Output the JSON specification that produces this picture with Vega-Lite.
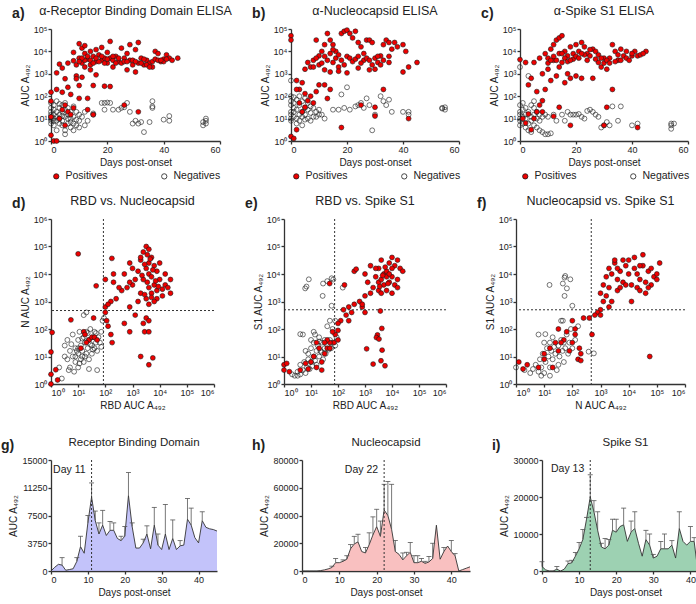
{
"$schema":"https://vega.github.io/schema/vega-lite/v6.json",
"padding":{"left":0,"top":4,"right":2,"bottom":2},
"config":{"font":"Liberation Sans","view":{"stroke":null},
"axis":{"grid":false,"domainColor":"#333","domainWidth":1.3,"tickColor":"#333","tickWidth":1.3,"tickSize":3,"labelColor":"#222","labelFontSize":9,"titleColor":"#222","titleFontSize":10,"titleFontWeight":"normal","labelPadding":1,"titlePadding":3,"labelOverlap":false},
"title":{"fontSize":12.5,"fontWeight":"normal","color":"#222","offset":8},
"legend":{"symbolStrokeColor":"#1a1a1a","symbolStrokeWidth":0.8,"symbolSize":28,"labelFontSize":10.5,"labelColor":"#222","symbolType":"circle","offset":4}},
"datasets":{
"a":[{"d":0,"v":10,"s":"N"},{"d":0,"v":15,"s":"N"},{"d":0,"v":20,"s":"N"},{"d":0,"v":30,"s":"N"},{"d":0,"v":8,"s":"N"},{"d":0,"v":12,"s":"N"},{"d":0,"v":50,"s":"N"},{"d":0,"v":6,"s":"N"},{"d":1,"v":10,"s":"N"},{"d":1,"v":5,"s":"N"},{"d":1,"v":25,"s":"N"},{"d":1,"v":40,"s":"N"},{"d":1,"v":15,"s":"N"},{"d":1,"v":8,"s":"N"},{"d":2,"v":8,"s":"N"},{"d":2,"v":20,"s":"N"},{"d":2,"v":3,"s":"N"},{"d":2,"v":12,"s":"N"},{"d":2,"v":60,"s":"N"},{"d":3,"v":6,"s":"N"},{"d":3,"v":15,"s":"N"},{"d":3,"v":30,"s":"N"},{"d":3,"v":10,"s":"N"},{"d":3,"v":45,"s":"N"},{"d":4,"v":5,"s":"N"},{"d":4,"v":20,"s":"N"},{"d":4,"v":40,"s":"N"},{"d":4,"v":8,"s":"N"},{"d":4,"v":13,"s":"N"},{"d":5,"v":3,"s":"N"},{"d":5,"v":12,"s":"N"},{"d":5,"v":25,"s":"N"},{"d":5,"v":2,"s":"N"},{"d":5,"v":50,"s":"N"},{"d":6,"v":6,"s":"N"},{"d":6,"v":15,"s":"N"},{"d":6,"v":30,"s":"N"},{"d":6,"v":10,"s":"N"},{"d":7,"v":4,"s":"N"},{"d":7,"v":10,"s":"N"},{"d":7,"v":20,"s":"N"},{"d":7,"v":7,"s":"N"},{"d":8,"v":3,"s":"N"},{"d":8,"v":12,"s":"N"},{"d":8,"v":35,"s":"N"},{"d":8,"v":6,"s":"N"},{"d":9,"v":5,"s":"N"},{"d":9,"v":20,"s":"N"},{"d":9,"v":9,"s":"N"},{"d":10,"v":8,"s":"N"},{"d":10,"v":15,"s":"N"},{"d":10,"v":4,"s":"N"},{"d":11,"v":12,"s":"N"},{"d":12,"v":5,"s":"N"},{"d":12,"v":20,"s":"N"},{"d":13,"v":8,"s":"N"},{"d":15,"v":15,"s":"N"},{"d":15,"v":17,"s":"N"},{"d":18,"v":50,"s":"N"},{"d":19,"v":50,"s":"N"},{"d":20,"v":52,"s":"N"},{"d":21,"v":50,"s":"N"},{"d":19,"v":25,"s":"N"},{"d":22,"v":25,"s":"N"},{"d":24,"v":25,"s":"N"},{"d":25,"v":30,"s":"N"},{"d":26,"v":32,"s":"N"},{"d":27,"v":50,"s":"N"},{"d":28,"v":20,"s":"N"},{"d":29,"v":6,"s":"N"},{"d":30,"v":8,"s":"N"},{"d":31,"v":6,"s":"N"},{"d":32,"v":7,"s":"N"},{"d":33,"v":2.5,"s":"N"},{"d":35,"v":7,"s":"N"},{"d":36,"v":60,"s":"N"},{"d":36,"v":35,"s":"N"},{"d":36,"v":30,"s":"N"},{"d":40,"v":9,"s":"N"},{"d":42,"v":13,"s":"N"},{"d":42,"v":8,"s":"N"},{"d":54,"v":5,"s":"N"},{"d":54,"v":7,"s":"N"},{"d":55,"v":10,"s":"N"},{"d":55,"v":6,"s":"N"},{"d":55,"v":8,"s":"N"},
{"d":0,"v":1.8,"s":"P"},{"d":0,"v":150,"s":"P"},{"d":0,"v":60,"s":"P"},{"d":0,"v":12,"s":"P"},{"d":1,"v":1,"s":"P"},{"d":2,"v":1,"s":"P"},{"d":2,"v":1100,"s":"P"},{"d":3,"v":2700,"s":"P"},{"d":4,"v":1800,"s":"P"},{"d":5,"v":600,"s":"P"},{"d":6,"v":3000,"s":"P"},{"d":6,"v":250,"s":"P"},{"d":7,"v":120,"s":"P"},{"d":8,"v":9000,"s":"P"},{"d":8,"v":3800,"s":"P"},{"d":9,"v":2500,"s":"P"},{"d":10,"v":22000,"s":"P"},{"d":10,"v":5000,"s":"P"},{"d":11,"v":14000,"s":"P"},{"d":11,"v":3000,"s":"P"},{"d":12,"v":8000,"s":"P"},{"d":12,"v":18000,"s":"P"},{"d":13,"v":4500,"s":"P"},{"d":14,"v":10000,"s":"P"},{"d":14,"v":2500,"s":"P"},{"d":15,"v":6000,"s":"P"},{"d":15,"v":300,"s":"P"},{"d":16,"v":12000,"s":"P"},{"d":16,"v":3500,"s":"P"},{"d":17,"v":7000,"s":"P"},{"d":18,"v":4000,"s":"P"},{"d":18,"v":15000,"s":"P"},{"d":19,"v":5000,"s":"P"},{"d":20,"v":3000,"s":"P"},{"d":20,"v":9000,"s":"P"},{"d":21,"v":28000,"s":"P"},{"d":21,"v":5000,"s":"P"},{"d":22,"v":4000,"s":"P"},{"d":22,"v":2000,"s":"P"},{"d":23,"v":6000,"s":"P"},{"d":24,"v":3500,"s":"P"},{"d":25,"v":14000,"s":"P"},{"d":25,"v":3000,"s":"P"},{"d":26,"v":5000,"s":"P"},{"d":27,"v":1500,"s":"P"},{"d":27,"v":8000,"s":"P"},{"d":28,"v":20000,"s":"P"},{"d":28,"v":4000,"s":"P"},{"d":29,"v":2500,"s":"P"},{"d":30,"v":12000,"s":"P"},{"d":30,"v":1200,"s":"P"},{"d":31,"v":25000,"s":"P"},{"d":31,"v":3000,"s":"P"},{"d":32,"v":5000,"s":"P"},{"d":33,"v":2500,"s":"P"},{"d":34,"v":4000,"s":"P"},{"d":35,"v":3000,"s":"P"},{"d":36,"v":3500,"s":"P"},{"d":37,"v":10000,"s":"P"},{"d":37,"v":4500,"s":"P"},{"d":38,"v":8000,"s":"P"},{"d":39,"v":3500,"s":"P"},{"d":40,"v":4500,"s":"P"},{"d":41,"v":7000,"s":"P"},{"d":42,"v":5000,"s":"P"},{"d":45,"v":5000,"s":"P"},{"d":4,"v":150,"s":"P"},{"d":5,"v":40,"s":"P"},{"d":6,"v":20,"s":"P"},{"d":7,"v":15,"s":"P"},{"d":3,"v":10,"s":"P"},{"d":4,"v":25,"s":"P"},{"d":5,"v":5,"s":"P"},{"d":8,"v":30,"s":"P"},{"d":2,"v":200,"s":"P"},{"d":9,"v":800,"s":"P"},{"d":10,"v":80,"s":"P"},{"d":13,"v":25,"s":"P"},{"d":15,"v":15,"s":"P"},{"d":10,"v":300,"s":"P"},{"d":12,"v":2000,"s":"P"},{"d":19,"v":280,"s":"P"},{"d":21,"v":270,"s":"P"},{"d":31,"v":20,"s":"P"},{"d":13,"v":80,"s":"P"},{"d":26,"v":40,"s":"P"},{"d":11,"v":700,"s":"P"},{"d":9,"v":600,"s":"P"},{"d":14,"v":1500,"s":"P"},{"d":16,"v":900,"s":"P"},{"d":12,"v":4000,"s":"P"},{"d":13,"v":6000,"s":"P"},{"d":14,"v":4000,"s":"P"},{"d":15,"v":3000,"s":"P"},{"d":17,"v":3500,"s":"P"},{"d":19,"v":3000,"s":"P"},{"d":20,"v":4500,"s":"P"},{"d":23,"v":3000,"s":"P"},{"d":24,"v":5000,"s":"P"},{"d":26,"v":3500,"s":"P"},{"d":29,"v":4000,"s":"P"},{"d":32,"v":3000,"s":"P"},{"d":34,"v":2500,"s":"P"},{"d":36,"v":2000,"s":"P"},{"d":38,"v":4000,"s":"P"},{"d":40,"v":3500,"s":"P"},{"d":41,"v":4500,"s":"P"},{"d":43,"v":4000,"s":"P"},{"d":11,"v":5000,"s":"P"},{"d":10,"v":3500,"s":"P"},{"d":16,"v":5000,"s":"P"},{"d":18,"v":6000,"s":"P"},{"d":22,"v":6000,"s":"P"},{"d":27,"v":3500,"s":"P"},{"d":30,"v":3500,"s":"P"},{"d":33,"v":4500,"s":"P"},{"d":35,"v":2000,"s":"P"},{"d":39,"v":4000,"s":"P"}],
"b":[{"d":0,"v":500,"s":"N"},{"d":0,"v":10,"s":"N"},{"d":0,"v":20,"s":"N"},{"d":0,"v":40,"s":"N"},{"d":0,"v":60,"s":"N"},{"d":0,"v":100,"s":"N"},{"d":0,"v":15,"s":"N"},{"d":0,"v":8,"s":"N"},{"d":1,"v":30,"s":"N"},{"d":1,"v":12,"s":"N"},{"d":1,"v":50,"s":"N"},{"d":1,"v":90,"s":"N"},{"d":1,"v":20,"s":"N"},{"d":2,"v":10,"s":"N"},{"d":2,"v":25,"s":"N"},{"d":2,"v":70,"s":"N"},{"d":2,"v":6,"s":"N"},{"d":3,"v":15,"s":"N"},{"d":3,"v":40,"s":"N"},{"d":3,"v":8,"s":"N"},{"d":3,"v":100,"s":"N"},{"d":4,"v":20,"s":"N"},{"d":4,"v":12,"s":"N"},{"d":4,"v":60,"s":"N"},{"d":4,"v":5,"s":"N"},{"d":5,"v":30,"s":"N"},{"d":5,"v":9,"s":"N"},{"d":5,"v":80,"s":"N"},{"d":5,"v":15,"s":"N"},{"d":6,"v":25,"s":"N"},{"d":6,"v":10,"s":"N"},{"d":6,"v":50,"s":"N"},{"d":7,"v":18,"s":"N"},{"d":7,"v":35,"s":"N"},{"d":7,"v":8,"s":"N"},{"d":8,"v":12,"s":"N"},{"d":8,"v":30,"s":"N"},{"d":9,"v":20,"s":"N"},{"d":9,"v":12,"s":"N"},{"d":10,"v":15,"s":"N"},{"d":10,"v":25,"s":"N"},{"d":11,"v":15,"s":"N"},{"d":12,"v":10,"s":"N"},{"d":15,"v":25,"s":"N"},{"d":17,"v":25,"s":"N"},{"d":18,"v":120,"s":"N"},{"d":19,"v":30,"s":"N"},{"d":20,"v":250,"s":"N"},{"d":21,"v":25,"s":"N"},{"d":23,"v":35,"s":"N"},{"d":24,"v":40,"s":"N"},{"d":25,"v":50,"s":"N"},{"d":26,"v":30,"s":"N"},{"d":27,"v":80,"s":"N"},{"d":28,"v":40,"s":"N"},{"d":29,"v":3,"s":"N"},{"d":30,"v":15,"s":"N"},{"d":32,"v":100,"s":"N"},{"d":33,"v":60,"s":"N"},{"d":34,"v":40,"s":"N"},{"d":35,"v":70,"s":"N"},{"d":36,"v":20,"s":"N"},{"d":40,"v":20,"s":"N"},{"d":42,"v":15,"s":"N"},{"d":42,"v":20,"s":"N"},{"d":54,"v":30,"s":"N"},{"d":55,"v":25,"s":"N"},{"d":54,"v":28,"s":"N"},{"d":55,"v":32,"s":"N"},
{"d":0,"v":50000,"s":"P"},{"d":0,"v":32000,"s":"P"},{"d":0,"v":1.6,"s":"P"},{"d":1,"v":1.3,"s":"P"},{"d":2,"v":3.2,"s":"P"},{"d":2,"v":500,"s":"P"},{"d":3,"v":200,"s":"P"},{"d":4,"v":400,"s":"P"},{"d":5,"v":1600,"s":"P"},{"d":6,"v":3200,"s":"P"},{"d":7,"v":2000,"s":"P"},{"d":8,"v":4000,"s":"P"},{"d":9,"v":32000,"s":"P"},{"d":10,"v":6300,"s":"P"},{"d":11,"v":10000,"s":"P"},{"d":12,"v":20000,"s":"P"},{"d":13,"v":63000,"s":"P"},{"d":14,"v":32000,"s":"P"},{"d":15,"v":20000,"s":"P"},{"d":15,"v":3200,"s":"P"},{"d":16,"v":10000,"s":"P"},{"d":17,"v":2000,"s":"P"},{"d":18,"v":63000,"s":"P"},{"d":19,"v":79000,"s":"P"},{"d":20,"v":89000,"s":"P"},{"d":21,"v":63000,"s":"P"},{"d":22,"v":40000,"s":"P"},{"d":23,"v":79000,"s":"P"},{"d":24,"v":25000,"s":"P"},{"d":25,"v":16000,"s":"P"},{"d":26,"v":4000,"s":"P"},{"d":27,"v":32000,"s":"P"},{"d":28,"v":32000,"s":"P"},{"d":29,"v":25000,"s":"P"},{"d":30,"v":1600,"s":"P"},{"d":31,"v":3200,"s":"P"},{"d":32,"v":6300,"s":"P"},{"d":33,"v":20000,"s":"P"},{"d":34,"v":32000,"s":"P"},{"d":35,"v":3200,"s":"P"},{"d":36,"v":12600,"s":"P"},{"d":38,"v":16000,"s":"P"},{"d":40,"v":20000,"s":"P"},{"d":41,"v":10000,"s":"P"},{"d":42,"v":2000,"s":"P"},{"d":45,"v":3200,"s":"P"},{"d":8,"v":2000,"s":"P"},{"d":9,"v":5000,"s":"P"},{"d":10,"v":2500,"s":"P"},{"d":11,"v":3000,"s":"P"},{"d":12,"v":6000,"s":"P"},{"d":13,"v":4000,"s":"P"},{"d":14,"v":8000,"s":"P"},{"d":15,"v":12000,"s":"P"},{"d":16,"v":5000,"s":"P"},{"d":17,"v":7000,"s":"P"},{"d":18,"v":4000,"s":"P"},{"d":19,"v":2500,"s":"P"},{"d":20,"v":6000,"s":"P"},{"d":21,"v":5000,"s":"P"},{"d":22,"v":3500,"s":"P"},{"d":23,"v":4500,"s":"P"},{"d":24,"v":6000,"s":"P"},{"d":25,"v":3000,"s":"P"},{"d":26,"v":8000,"s":"P"},{"d":27,"v":5000,"s":"P"},{"d":28,"v":4000,"s":"P"},{"d":29,"v":2500,"s":"P"},{"d":30,"v":5000,"s":"P"},{"d":31,"v":6000,"s":"P"},{"d":32,"v":2500,"s":"P"},{"d":33,"v":4000,"s":"P"},{"d":35,"v":6000,"s":"P"},{"d":12,"v":1500,"s":"P"},{"d":14,"v":1200,"s":"P"},{"d":17,"v":1300,"s":"P"},{"d":20,"v":1100,"s":"P"},{"d":24,"v":1800,"s":"P"},{"d":28,"v":1500,"s":"P"},{"d":2,"v":200,"s":"P"},{"d":5,"v":130,"s":"P"},{"d":6,"v":63,"s":"P"},{"d":7,"v":100,"s":"P"},{"d":8,"v":50,"s":"P"},{"d":9,"v":160,"s":"P"},{"d":10,"v":320,"s":"P"},{"d":12,"v":320,"s":"P"},{"d":14,"v":200,"s":"P"},{"d":13,"v":79,"s":"P"},{"d":18,"v":4,"s":"P"},{"d":25,"v":40,"s":"P"},{"d":30,"v":13,"s":"P"},{"d":30,"v":32,"s":"P"},{"d":33,"v":200,"s":"P"},{"d":42,"v":10,"s":"P"},{"d":5,"v":32,"s":"P"},{"d":4,"v":20,"s":"P"},{"d":3,"v":50,"s":"P"},{"d":40,"v":1200,"s":"P"},{"d":37,"v":25000,"s":"P"},{"d":35,"v":25000,"s":"P"}],
"c":[{"d":0,"v":2000,"s":"N"},{"d":3,"v":800,"s":"N"},{"d":0,"v":10,"s":"N"},{"d":0,"v":20,"s":"N"},{"d":0,"v":5,"s":"N"},{"d":0,"v":40,"s":"N"},{"d":0,"v":15,"s":"N"},{"d":0,"v":8,"s":"N"},{"d":1,"v":12,"s":"N"},{"d":1,"v":25,"s":"N"},{"d":1,"v":6,"s":"N"},{"d":1,"v":50,"s":"N"},{"d":2,"v":10,"s":"N"},{"d":2,"v":4,"s":"N"},{"d":2,"v":30,"s":"N"},{"d":2,"v":15,"s":"N"},{"d":3,"v":6,"s":"N"},{"d":3,"v":20,"s":"N"},{"d":3,"v":3,"s":"N"},{"d":4,"v":12,"s":"N"},{"d":4,"v":40,"s":"N"},{"d":4,"v":8,"s":"N"},{"d":4,"v":2.5,"s":"N"},{"d":5,"v":15,"s":"N"},{"d":5,"v":30,"s":"N"},{"d":5,"v":5,"s":"N"},{"d":5,"v":60,"s":"N"},{"d":6,"v":10,"s":"N"},{"d":6,"v":20,"s":"N"},{"d":6,"v":4,"s":"N"},{"d":7,"v":8,"s":"N"},{"d":7,"v":15,"s":"N"},{"d":7,"v":3,"s":"N"},{"d":8,"v":12,"s":"N"},{"d":8,"v":2.5,"s":"N"},{"d":9,"v":2,"s":"N"},{"d":9,"v":15,"s":"N"},{"d":10,"v":2,"s":"N"},{"d":10,"v":12,"s":"N"},{"d":11,"v":2.2,"s":"N"},{"d":12,"v":15,"s":"N"},{"d":13,"v":8,"s":"N"},{"d":15,"v":15,"s":"N"},{"d":16,"v":8,"s":"N"},{"d":17,"v":20,"s":"N"},{"d":18,"v":15,"s":"N"},{"d":19,"v":15,"s":"N"},{"d":20,"v":15,"s":"N"},{"d":21,"v":16,"s":"N"},{"d":22,"v":12,"s":"N"},{"d":23,"v":10,"s":"N"},{"d":24,"v":22,"s":"N"},{"d":25,"v":25,"s":"N"},{"d":26,"v":20,"s":"N"},{"d":27,"v":15,"s":"N"},{"d":28,"v":12,"s":"N"},{"d":29,"v":4,"s":"N"},{"d":30,"v":5,"s":"N"},{"d":31,"v":7,"s":"N"},{"d":32,"v":5,"s":"N"},{"d":33,"v":35,"s":"N"},{"d":35,"v":8,"s":"N"},{"d":36,"v":35,"s":"N"},{"d":40,"v":5,"s":"N"},{"d":42,"v":6,"s":"N"},{"d":54,"v":6,"s":"N"},{"d":54,"v":5,"s":"N"},{"d":55,"v":6,"s":"N"},{"d":54,"v":3.5,"s":"N"},
{"d":0,"v":4300,"s":"P"},{"d":2,"v":3200,"s":"P"},{"d":3,"v":320,"s":"P"},{"d":4,"v":630,"s":"P"},{"d":5,"v":3200,"s":"P"},{"d":6,"v":160,"s":"P"},{"d":7,"v":5000,"s":"P"},{"d":8,"v":1000,"s":"P"},{"d":9,"v":7900,"s":"P"},{"d":10,"v":5000,"s":"P"},{"d":11,"v":12600,"s":"P"},{"d":12,"v":20000,"s":"P"},{"d":13,"v":32000,"s":"P"},{"d":14,"v":40000,"s":"P"},{"d":15,"v":50000,"s":"P"},{"d":15,"v":3200,"s":"P"},{"d":16,"v":10000,"s":"P"},{"d":17,"v":6300,"s":"P"},{"d":18,"v":16000,"s":"P"},{"d":19,"v":7900,"s":"P"},{"d":20,"v":20000,"s":"P"},{"d":21,"v":10000,"s":"P"},{"d":22,"v":25000,"s":"P"},{"d":23,"v":16000,"s":"P"},{"d":24,"v":7900,"s":"P"},{"d":25,"v":6300,"s":"P"},{"d":26,"v":12600,"s":"P"},{"d":27,"v":10000,"s":"P"},{"d":28,"v":3200,"s":"P"},{"d":29,"v":2000,"s":"P"},{"d":30,"v":5000,"s":"P"},{"d":31,"v":1600,"s":"P"},{"d":32,"v":5000,"s":"P"},{"d":33,"v":20000,"s":"P"},{"d":33,"v":200,"s":"P"},{"d":34,"v":10000,"s":"P"},{"d":35,"v":4000,"s":"P"},{"d":36,"v":12600,"s":"P"},{"d":37,"v":6300,"s":"P"},{"d":38,"v":10000,"s":"P"},{"d":40,"v":6300,"s":"P"},{"d":41,"v":10000,"s":"P"},{"d":42,"v":6300,"s":"P"},{"d":45,"v":10000,"s":"P"},{"d":10,"v":1600,"s":"P"},{"d":12,"v":4000,"s":"P"},{"d":13,"v":800,"s":"P"},{"d":16,"v":400,"s":"P"},{"d":18,"v":630,"s":"P"},{"d":20,"v":800,"s":"P"},{"d":22,"v":630,"s":"P"},{"d":26,"v":630,"s":"P"},{"d":14,"v":2000,"s":"P"},{"d":17,"v":1000,"s":"P"},{"d":11,"v":500,"s":"P"},{"d":9,"v":200,"s":"P"},{"d":8,"v":63,"s":"P"},{"d":7,"v":40,"s":"P"},{"d":6,"v":20,"s":"P"},{"d":5,"v":10,"s":"P"},{"d":4,"v":3.2,"s":"P"},{"d":3,"v":16,"s":"P"},{"d":2,"v":6.3,"s":"P"},{"d":1,"v":10,"s":"P"},{"d":14,"v":32,"s":"P"},{"d":18,"v":5,"s":"P"},{"d":30,"v":5,"s":"P"},{"d":31,"v":32,"s":"P"},{"d":42,"v":4,"s":"P"},{"d":12,"v":12.6,"s":"P"},{"d":8,"v":20,"s":"P"},{"d":12,"v":6000,"s":"P"},{"d":13,"v":4000,"s":"P"},{"d":14,"v":8000,"s":"P"},{"d":16,"v":5000,"s":"P"},{"d":17,"v":3500,"s":"P"},{"d":19,"v":4500,"s":"P"},{"d":20,"v":6000,"s":"P"},{"d":21,"v":5000,"s":"P"},{"d":23,"v":7000,"s":"P"},{"d":24,"v":4000,"s":"P"},{"d":25,"v":12000,"s":"P"},{"d":27,"v":4500,"s":"P"},{"d":28,"v":7000,"s":"P"},{"d":29,"v":5000,"s":"P"},{"d":30,"v":3000,"s":"P"},{"d":31,"v":4000,"s":"P"},{"d":32,"v":3000,"s":"P"},{"d":34,"v":3500,"s":"P"},{"d":35,"v":7000,"s":"P"},{"d":36,"v":4000,"s":"P"},{"d":38,"v":5000,"s":"P"},{"d":39,"v":4000,"s":"P"},{"d":40,"v":8000,"s":"P"},{"d":43,"v":7000,"s":"P"},{"d":44,"v":8000,"s":"P"},{"d":22,"v":8000,"s":"P"},{"d":18,"v":4000,"s":"P"},{"d":10,"v":3000,"s":"P"},{"d":11,"v":4000,"s":"P"},{"d":15,"v":8000,"s":"P"}],
"d":[{"x":2.5,"y":1.58,"s":"N"},{"x":3.2,"y":10,"s":"N"},{"x":4,"y":40,"s":"N"},{"x":4,"y":7.9,"s":"N"},{"x":5,"y":16,"s":"N"},{"x":5,"y":4,"s":"N"},{"x":6.3,"y":10,"s":"N"},{"x":6.3,"y":63,"s":"N"},{"x":7.1,"y":2.8,"s":"N"},{"x":7.9,"y":20,"s":"N"},{"x":7.9,"y":6.3,"s":"N"},{"x":10,"y":12.6,"s":"N"},{"x":10,"y":40,"s":"N"},{"x":10,"y":4,"s":"N"},{"x":11.2,"y":79,"s":"N"},{"x":12.6,"y":25,"s":"N"},{"x":12.6,"y":7.9,"s":"N"},{"x":14.1,"y":16,"s":"N"},{"x":16,"y":50,"s":"N"},{"x":16,"y":6.3,"s":"N"},{"x":17.8,"y":32,"s":"N"},{"x":20,"y":12.6,"s":"N"},{"x":20,"y":79,"s":"N"},{"x":22.4,"y":20,"s":"N"},{"x":25,"y":40,"s":"N"},{"x":25,"y":7.9,"s":"N"},{"x":28,"y":100,"s":"N"},{"x":32,"y":25,"s":"N"},{"x":32,"y":12.6,"s":"N"},{"x":35,"y":50,"s":"N"},{"x":40,"y":20,"s":"N"},{"x":40,"y":79,"s":"N"},{"x":45,"y":32,"s":"N"},{"x":50,"y":16,"s":"N"},{"x":56,"y":50,"s":"N"},{"x":63,"y":32,"s":"N"},{"x":71,"y":79,"s":"N"},{"x":79,"y":200,"s":"N"},{"x":20,"y":400,"s":"N"},{"x":16,"y":320,"s":"N"},{"x":89,"y":250,"s":"N"},{"x":10,"y":20,"s":"N"},{"x":7.9,"y":10,"s":"N"},{"x":14.1,"y":45,"s":"N"},{"x":22.4,"y":71,"s":"N"},{"x":3.2,"y":25,"s":"N"},{"x":50,"y":3.2,"s":"N"},{"x":2,"y":4,"s":"N"},{"x":11.2,"y":5.6,"s":"N"},{"x":17.8,"y":10,"s":"N"},{"x":5.6,"y":28,"s":"N"},{"x":35,"y":17.8,"s":"N"},{"x":28,"y":28,"s":"N"},{"x":14.1,"y":10,"s":"N"},{"x":8.9,"y":16,"s":"N"},{"x":45,"y":71,"s":"N"},{"x":71,"y":22.4,"s":"N"},{"x":4.5,"y":3.2,"s":"N"},{"x":25,"y":3.5,"s":"N"},
{"x":3200,"y":100000,"s":"P"},{"x":4000,"y":79000,"s":"P"},{"x":2500,"y":63000,"s":"P"},{"x":3500,"y":50000,"s":"P"},{"x":5000,"y":40000,"s":"P"},{"x":2000,"y":32000,"s":"P"},{"x":4000,"y":25000,"s":"P"},{"x":6300,"y":20000,"s":"P"},{"x":3200,"y":16000,"s":"P"},{"x":7900,"y":12600,"s":"P"},{"x":1600,"y":12600,"s":"P"},{"x":4000,"y":10000,"s":"P"},{"x":5000,"y":7900,"s":"P"},{"x":10000,"y":6300,"s":"P"},{"x":2500,"y":6300,"s":"P"},{"x":3500,"y":5000,"s":"P"},{"x":6300,"y":4000,"s":"P"},{"x":16000,"y":4000,"s":"P"},{"x":1000,"y":4000,"s":"P"},{"x":4000,"y":3200,"s":"P"},{"x":7900,"y":2500,"s":"P"},{"x":20000,"y":3200,"s":"P"},{"x":2000,"y":2000,"s":"P"},{"x":5000,"y":2000,"s":"P"},{"x":12600,"y":1600,"s":"P"},{"x":3200,"y":1260,"s":"P"},{"x":7900,"y":1260,"s":"P"},{"x":25000,"y":2000,"s":"P"},{"x":1600,"y":1000,"s":"P"},{"x":6300,"y":1000,"s":"P"},{"x":4000,"y":790,"s":"P"},{"x":630,"y":3200,"s":"P"},{"x":400,"y":2500,"s":"P"},{"x":320,"y":3200,"s":"P"},{"x":250,"y":1260,"s":"P"},{"x":160,"y":1000,"s":"P"},{"x":100,"y":630,"s":"P"},{"x":126,"y":790,"s":"P"},{"x":200,"y":10000,"s":"P"},{"x":100,"y":6300,"s":"P"},{"x":200,"y":5000,"s":"P"},{"x":790,"y":5000,"s":"P"},{"x":500,"y":10000,"s":"P"},{"x":1000,"y":16000,"s":"P"},{"x":790,"y":25000,"s":"P"},{"x":1260,"y":6300,"s":"P"},{"x":2000,"y":40000,"s":"P"},{"x":10000,"y":25000,"s":"P"},{"x":16000,"y":10000,"s":"P"},{"x":25000,"y":6300,"s":"P"},{"x":4500,"y":35000,"s":"P"},{"x":2800,"y":22400,"s":"P"},{"x":5600,"y":14100,"s":"P"},{"x":2240,"y":8900,"s":"P"},{"x":7100,"y":5600,"s":"P"},{"x":8900,"y":3500,"s":"P"},{"x":12600,"y":2800,"s":"P"},{"x":2800,"y":1780,"s":"P"},{"x":5000,"y":1410,"s":"P"},{"x":790,"y":630,"s":"P"},{"x":1260,"y":320,"s":"P"},{"x":500,"y":160,"s":"P"},{"x":3200,"y":250,"s":"P"},{"x":4000,"y":200,"s":"P"},{"x":2500,"y":160,"s":"P"},{"x":2800,"y":79,"s":"P"},{"x":4000,"y":79,"s":"P"},{"x":790,"y":79,"s":"P"},{"x":2000,"y":10,"s":"P"},{"x":4000,"y":5,"s":"P"},{"x":5600,"y":8.9,"s":"P"},{"x":100,"y":400,"s":"P"},{"x":112,"y":200,"s":"P"},{"x":126,"y":126,"s":"P"},{"x":160,"y":63,"s":"P"},{"x":178,"y":32,"s":"P"},{"x":37,"y":250,"s":"P"},{"x":46,"y":3700,"s":"P"},{"x":10,"y":54000,"s":"P"},{"x":174,"y":37000,"s":"P"},{"x":1,"y":1,"s":"P"},{"x":1,"y":2.24,"s":"P"},{"x":1,"y":14.5,"s":"P"},{"x":1.1,"y":75,"s":"P"},{"x":1.5,"y":3.3,"s":"P"},{"x":1.75,"y":1.4,"s":"P"},{"x":5.4,"y":215,"s":"P"},{"x":16,"y":79,"s":"P"},{"x":25,"y":40,"s":"P"},{"x":32,"y":50,"s":"P"},{"x":20,"y":32,"s":"P"},{"x":40,"y":50,"s":"P"},{"x":12.6,"y":20,"s":"P"},{"x":50,"y":40,"s":"P"},{"x":17.8,"y":63,"s":"P"}],
"e":[{"x":2,"y":2.24,"s":"N"},{"x":2.5,"y":2,"s":"N"},{"x":3.2,"y":2.8,"s":"N"},{"x":4,"y":2.24,"s":"N"},{"x":4,"y":5,"s":"N"},{"x":5,"y":3.2,"s":"N"},{"x":5.6,"y":6.3,"s":"N"},{"x":6.3,"y":2.5,"s":"N"},{"x":7.1,"y":4,"s":"N"},{"x":7.9,"y":7.9,"s":"N"},{"x":7.9,"y":12.6,"s":"N"},{"x":8.9,"y":3.5,"s":"N"},{"x":10,"y":6.3,"s":"N"},{"x":10,"y":20,"s":"N"},{"x":11.2,"y":4.5,"s":"N"},{"x":12.6,"y":10,"s":"N"},{"x":12.6,"y":32,"s":"N"},{"x":14.1,"y":7.1,"s":"N"},{"x":16,"y":16,"s":"N"},{"x":16,"y":5,"s":"N"},{"x":17.8,"y":25,"s":"N"},{"x":20,"y":10,"s":"N"},{"x":20,"y":50,"s":"N"},{"x":22.4,"y":16,"s":"N"},{"x":25,"y":32,"s":"N"},{"x":28,"y":7.9,"s":"N"},{"x":32,"y":20,"s":"N"},{"x":32,"y":40,"s":"N"},{"x":35,"y":12.6,"s":"N"},{"x":40,"y":25,"s":"N"},{"x":45,"y":17.8,"s":"N"},{"x":50,"y":40,"s":"N"},{"x":56,"y":20,"s":"N"},{"x":63,"y":32,"s":"N"},{"x":79,"y":25,"s":"N"},{"x":89,"y":50,"s":"N"},{"x":79,"y":200,"s":"N"},{"x":63,"y":100,"s":"N"},{"x":5,"y":63,"s":"N"},{"x":12.6,"y":79,"s":"N"},{"x":10,"y":40,"s":"N"},{"x":6.1,"y":3000,"s":"N"},{"x":8.3,"y":6400,"s":"N"},{"x":6.8,"y":3500,"s":"N"},{"x":27,"y":1600,"s":"N"},{"x":28,"y":4500,"s":"N"},{"x":40,"y":5500,"s":"N"},{"x":58,"y":7000,"s":"N"},{"x":67,"y":6300,"s":"N"},{"x":150,"y":3200,"s":"N"},{"x":58,"y":700,"s":"N"},{"x":50,"y":200,"s":"N"},{"x":4,"y":65,"s":"N"},{"x":40,"y":126,"s":"N"},{"x":20,"y":35,"s":"N"},{"x":3.2,"y":2,"s":"N"},{"x":14.1,"y":63,"s":"N"},{"x":25,"y":14.1,"s":"N"},{"x":6.3,"y":16,"s":"N"},
{"x":3200,"y":16000,"s":"P"},{"x":4000,"y":32000,"s":"P"},{"x":5000,"y":10000,"s":"P"},{"x":6300,"y":12600,"s":"P"},{"x":7900,"y":25000,"s":"P"},{"x":10000,"y":40000,"s":"P"},{"x":12600,"y":20000,"s":"P"},{"x":16000,"y":32000,"s":"P"},{"x":20000,"y":16000,"s":"P"},{"x":25000,"y":12600,"s":"P"},{"x":2500,"y":7900,"s":"P"},{"x":3200,"y":5000,"s":"P"},{"x":4000,"y":6300,"s":"P"},{"x":5000,"y":4000,"s":"P"},{"x":6300,"y":7900,"s":"P"},{"x":7900,"y":5000,"s":"P"},{"x":10000,"y":7900,"s":"P"},{"x":12600,"y":4000,"s":"P"},{"x":16000,"y":6300,"s":"P"},{"x":2000,"y":3200,"s":"P"},{"x":3200,"y":2500,"s":"P"},{"x":4000,"y":2000,"s":"P"},{"x":6300,"y":2500,"s":"P"},{"x":10000,"y":2000,"s":"P"},{"x":16000,"y":3200,"s":"P"},{"x":1260,"y":5000,"s":"P"},{"x":1600,"y":2000,"s":"P"},{"x":1000,"y":1600,"s":"P"},{"x":2500,"y":16000,"s":"P"},{"x":400,"y":12600,"s":"P"},{"x":1000,"y":10000,"s":"P"},{"x":1600,"y":20000,"s":"P"},{"x":7900,"y":10000,"s":"P"},{"x":10000,"y":16000,"s":"P"},{"x":4500,"y":8900,"s":"P"},{"x":5600,"y":17800,"s":"P"},{"x":3500,"y":3500,"s":"P"},{"x":7100,"y":4500,"s":"P"},{"x":630,"y":1000,"s":"P"},{"x":790,"y":630,"s":"P"},{"x":400,"y":790,"s":"P"},{"x":320,"y":400,"s":"P"},{"x":250,"y":630,"s":"P"},{"x":200,"y":320,"s":"P"},{"x":160,"y":500,"s":"P"},{"x":126,"y":200,"s":"P"},{"x":100,"y":160,"s":"P"},{"x":79,"y":63,"s":"P"},{"x":63,"y":79,"s":"P"},{"x":71,"y":32,"s":"P"},{"x":50,"y":32,"s":"P"},{"x":40,"y":20,"s":"P"},{"x":250,"y":200,"s":"P"},{"x":100,"y":89,"s":"P"},{"x":790,"y":790,"s":"P"},{"x":1000,"y":400,"s":"P"},{"x":2000,"y":5.3,"s":"P"},{"x":3900,"y":7,"s":"P"},{"x":5500,"y":4.6,"s":"P"},{"x":4300,"y":17,"s":"P"},{"x":2900,"y":61,"s":"P"},{"x":2650,"y":49,"s":"P"},{"x":3300,"y":43,"s":"P"},{"x":4200,"y":105,"s":"P"},{"x":3700,"y":450,"s":"P"},{"x":1150,"y":19,"s":"P"},{"x":470,"y":15000,"s":"P"},{"x":49,"y":4500,"s":"P"},{"x":174,"y":4000,"s":"P"},{"x":1,"y":3.2,"s":"P"},{"x":1,"y":5,"s":"P"},{"x":1.26,"y":5.6,"s":"P"},{"x":1.58,"y":2.8,"s":"P"},{"x":4,"y":3.2,"s":"P"},{"x":6.3,"y":5.6,"s":"P"},{"x":10,"y":6.3,"s":"P"},{"x":16,"y":4,"s":"P"},{"x":25,"y":3.2,"s":"P"},{"x":20,"y":20,"s":"P"},{"x":32,"y":12.6,"s":"P"},{"x":16,"y":32,"s":"P"},{"x":40,"y":40,"s":"P"},{"x":25,"y":6.3,"s":"P"},{"x":12.6,"y":10,"s":"P"},{"x":7.9,"y":3.5,"s":"P"},{"x":32,"y":32,"s":"P"},{"x":50,"y":20,"s":"P"},{"x":100,"y":40,"s":"P"}],
"f":[{"x":1,"y":4,"s":"N"},{"x":2,"y":3.2,"s":"N"},{"x":3.2,"y":2.5,"s":"N"},{"x":4,"y":3.5,"s":"N"},{"x":5,"y":5,"s":"N"},{"x":6.3,"y":2.8,"s":"N"},{"x":7.1,"y":7.9,"s":"N"},{"x":7.9,"y":4,"s":"N"},{"x":8.9,"y":12.6,"s":"N"},{"x":10,"y":2.5,"s":"N"},{"x":11.2,"y":6.3,"s":"N"},{"x":12.6,"y":20,"s":"N"},{"x":14.1,"y":10,"s":"N"},{"x":16,"y":4,"s":"N"},{"x":16,"y":32,"s":"N"},{"x":17.8,"y":16,"s":"N"},{"x":20,"y":7.9,"s":"N"},{"x":20,"y":50,"s":"N"},{"x":22.4,"y":22.4,"s":"N"},{"x":25,"y":12.6,"s":"N"},{"x":28,"y":3.2,"s":"N"},{"x":32,"y":25,"s":"N"},{"x":35,"y":10,"s":"N"},{"x":40,"y":40,"s":"N"},{"x":45,"y":16,"s":"N"},{"x":50,"y":6.3,"s":"N"},{"x":50,"y":32,"s":"N"},{"x":56,"y":20,"s":"N"},{"x":63,"y":63,"s":"N"},{"x":71,"y":12.6,"s":"N"},{"x":79,"y":32,"s":"N"},{"x":100,"y":20,"s":"N"},{"x":126,"y":40,"s":"N"},{"x":40,"y":200,"s":"N"},{"x":6.3,"y":63,"s":"N"},{"x":15.5,"y":4000,"s":"N"},{"x":46,"y":4500,"s":"N"},{"x":53,"y":7400,"s":"N"},{"x":56,"y":8500,"s":"N"},{"x":64,"y":3000,"s":"N"},{"x":53,"y":1600,"s":"N"},{"x":85,"y":6400,"s":"N"},{"x":100,"y":700,"s":"N"},{"x":46,"y":200,"s":"N"},{"x":11,"y":65,"s":"N"},{"x":380,"y":15,"s":"N"},{"x":580,"y":13,"s":"N"},{"x":160,"y":126,"s":"N"},{"x":89,"y":100,"s":"N"},{"x":10,"y":32,"s":"N"},{"x":16,"y":2,"s":"N"},{"x":7.9,"y":2,"s":"N"},{"x":32,"y":5,"s":"N"},
{"x":1000,"y":2000,"s":"P"},{"x":1260,"y":4000,"s":"P"},{"x":1600,"y":7900,"s":"P"},{"x":2000,"y":16000,"s":"P"},{"x":2500,"y":10000,"s":"P"},{"x":3200,"y":25000,"s":"P"},{"x":4000,"y":6300,"s":"P"},{"x":5000,"y":12600,"s":"P"},{"x":6300,"y":5000,"s":"P"},{"x":7900,"y":20000,"s":"P"},{"x":10000,"y":10000,"s":"P"},{"x":12600,"y":4000,"s":"P"},{"x":16000,"y":16000,"s":"P"},{"x":20000,"y":10000,"s":"P"},{"x":25000,"y":6300,"s":"P"},{"x":32000,"y":20000,"s":"P"},{"x":40000,"y":5000,"s":"P"},{"x":50000,"y":12600,"s":"P"},{"x":63000,"y":16000,"s":"P"},{"x":79000,"y":7900,"s":"P"},{"x":100000,"y":10000,"s":"P"},{"x":126000,"y":25000,"s":"P"},{"x":32000,"y":50000,"s":"P"},{"x":16000,"y":40000,"s":"P"},{"x":6300,"y":32000,"s":"P"},{"x":3200,"y":32000,"s":"P"},{"x":2000,"y":3200,"s":"P"},{"x":1600,"y":1600,"s":"P"},{"x":1260,"y":1000,"s":"P"},{"x":1000,"y":500,"s":"P"},{"x":790,"y":400,"s":"P"},{"x":630,"y":320,"s":"P"},{"x":2000,"y":630,"s":"P"},{"x":2500,"y":1000,"s":"P"},{"x":4000,"y":2500,"s":"P"},{"x":7900,"y":4000,"s":"P"},{"x":20000,"y":3200,"s":"P"},{"x":25000,"y":2500,"s":"P"},{"x":40000,"y":2000,"s":"P"},{"x":63000,"y":4000,"s":"P"},{"x":100000,"y":6300,"s":"P"},{"x":12600,"y":1000,"s":"P"},{"x":5000,"y":3200,"s":"P"},{"x":10000,"y":32000,"s":"P"},{"x":4000,"y":16000,"s":"P"},{"x":25000,"y":20000,"s":"P"},{"x":50000,"y":3200,"s":"P"},{"x":400,"y":250,"s":"P"},{"x":250,"y":250,"s":"P"},{"x":500,"y":63,"s":"P"},{"x":1000,"y":320,"s":"P"},{"x":56000,"y":10,"s":"P"},{"x":200,"y":12.6,"s":"P"},{"x":178,"y":20,"s":"P"},{"x":126,"y":100,"s":"P"},{"x":100,"y":200,"s":"P"},{"x":63,"y":79,"s":"P"},{"x":50,"y":40,"s":"P"},{"x":40,"y":32,"s":"P"},{"x":25,"y":32,"s":"P"},{"x":16,"y":20,"s":"P"},{"x":79,"y":16,"s":"P"},{"x":126,"y":63,"s":"P"},{"x":32,"y":16,"s":"P"},{"x":20,"y":4,"s":"P"},{"x":6.3,"y":4,"s":"P"},{"x":2.5,"y":5,"s":"P"},{"x":1.78,"y":3.5,"s":"P"},{"x":1.26,"y":6.3,"s":"P"},{"x":10,"y":7.9,"s":"P"},{"x":100,"y":32,"s":"P"},{"x":160,"y":7.9,"s":"P"},{"x":32,"y":100,"s":"P"},{"x":10,"y":12.6,"s":"P"},{"x":200,"y":7.1,"s":"P"}],
"g":[{"day":0,"m":0},{"day":1,"m":500},{"day":2,"m":900},{"day":3,"m":800,"hi":1800},{"day":4,"m":100},{"day":5,"m":200},{"day":6,"m":300},{"day":7,"m":1300,"hi":1800},{"day":8,"m":3300,"hi":4700},{"day":9,"m":2400},{"day":10,"m":6500,"hi":7500},{"day":11,"m":10000,"hi":11900},{"day":12,"m":6800,"hi":8100},{"day":13,"m":5000,"hi":6500},{"day":14,"m":6200,"hi":8200},{"day":15,"m":4800},{"day":16,"m":5500,"hi":6700},{"day":17,"m":5500,"hi":6500},{"day":18,"m":4400},{"day":19,"m":4100,"hi":4700},{"day":20,"m":4700,"hi":6000},{"day":21,"m":10200,"hi":13300},{"day":22,"m":6000,"hi":6500},{"day":23,"m":3100},{"day":24,"m":3100},{"day":25,"m":3800,"hi":4300},{"day":26,"m":5000,"hi":6100},{"day":27,"m":3000},{"day":28,"m":6200,"hi":8600},{"day":29,"m":3500,"hi":5000},{"day":30,"m":2900},{"day":31,"m":5000,"hi":9000},{"day":32,"m":2900},{"day":33,"m":4400,"hi":6900},{"day":34,"m":2900},{"day":35,"m":3400,"hi":4100},{"day":36,"m":3500},{"day":37,"m":7000,"hi":9800},{"day":38,"m":6200,"hi":8500},{"day":39,"m":4500},{"day":40,"m":3800},{"day":41,"m":6800,"hi":8000},{"day":42,"m":5900},{"day":43,"m":5700},{"day":44,"m":5600},{"day":45,"m":5400}],
"h":[{"day":0,"m":0},{"day":1,"m":0},{"day":2,"m":0},{"day":3,"m":0},{"day":4,"m":0},{"day":5,"m":300},{"day":6,"m":800},{"day":7,"m":1500},{"day":8,"m":2500,"hi":3500},{"day":9,"m":6000,"hi":9000},{"day":10,"m":6000},{"day":11,"m":7000,"hi":8000},{"day":12,"m":8500,"hi":11000},{"day":13,"m":16000,"hi":19000},{"day":14,"m":19500,"hi":25000},{"day":15,"m":21000,"hi":26500},{"day":16,"m":14000},{"day":17,"m":13000,"hi":17000},{"day":18,"m":19000,"hi":27500},{"day":19,"m":26000,"hi":39000},{"day":20,"m":32000,"hi":44500},{"day":21,"m":25000,"hi":36000},{"day":22,"m":44000,"hi":62500},{"day":23,"m":40000,"hi":64500},{"day":24,"m":30000,"hi":62500},{"day":25,"m":14000,"hi":22000},{"day":26,"m":12000},{"day":27,"m":8000,"hi":13000},{"day":28,"m":11000,"hi":13500},{"day":29,"m":13500,"hi":20500},{"day":30,"m":6000,"hi":11000},{"day":31,"m":6000,"hi":11000},{"day":32,"m":7000,"hi":9000},{"day":33,"m":5500,"hi":7000},{"day":34,"m":6500,"hi":10500},{"day":35,"m":9000,"hi":20000},{"day":36,"m":33000},{"day":37,"m":8500},{"day":38,"m":14000,"hi":17000},{"day":39,"m":18000},{"day":40,"m":14000,"hi":22000},{"day":41,"m":11000,"hi":12500},{"day":42,"m":0},{"day":43,"m":1000},{"day":44,"m":2000},{"day":45,"m":3000}],
"i":[{"day":0,"m":1200,"hi":2500},{"day":1,"m":300},{"day":2,"m":0},{"day":3,"m":0},{"day":4,"m":500,"hi":1200},{"day":5,"m":0},{"day":6,"m":500},{"day":7,"m":2000,"hi":2700},{"day":8,"m":2200,"hi":2900},{"day":9,"m":4000,"hi":5000},{"day":10,"m":6000,"hi":7700},{"day":11,"m":8500,"hi":11200},{"day":12,"m":14000,"hi":14500},{"day":13,"m":20000,"hi":26000},{"day":14,"m":16000,"hi":19000},{"day":15,"m":11000,"hi":16000},{"day":16,"m":6500,"hi":7500},{"day":17,"m":6000,"hi":8800},{"day":18,"m":7000,"hi":8500},{"day":19,"m":11000,"hi":14000},{"day":20,"m":10500,"hi":14000},{"day":21,"m":12000},{"day":22,"m":12500,"hi":17000},{"day":23,"m":8000},{"day":24,"m":10500,"hi":13500},{"day":25,"m":11500,"hi":16000},{"day":26,"m":7500},{"day":27,"m":4000},{"day":28,"m":8500,"hi":11000},{"day":29,"m":7000,"hi":10000},{"day":30,"m":3500,"hi":4500},{"day":31,"m":4000},{"day":32,"m":6000,"hi":8000},{"day":33,"m":6000,"hi":10000},{"day":34,"m":6000},{"day":35,"m":7000,"hi":8200},{"day":36,"m":3500},{"day":37,"m":11500,"hi":16000},{"day":38,"m":8000},{"day":39,"m":7000},{"day":40,"m":8000,"hi":12000},{"day":41,"m":8000,"hi":9000},{"day":42,"m":0},{"day":43,"m":4000},{"day":44,"m":7500},{"day":45,"m":11000}]
},
"spacing":12,
"resolve":{"scale":{"fill":"independent"}},
"vconcat":[
{"hconcat":[
{"title":{"text":"a)","anchor":"start","frame":"bounds","fontWeight":"bold","fontSize":14,"offset":0,"dy":16,"dx":-8},"vconcat":[
{"width":169,"height":112,"title":{"text":"α-Receptor Binding Domain ELISA"},"data":{"name":"a"},
"mark":{"type":"point","filled":true,"stroke":"#1a1a1a","strokeWidth":0.6,"size":24,"opacity":1},
"encoding":{"x":{"field":"d","type":"quantitative","scale":{"domain":[0,60],"nice":false},"axis":{"values":[0,20,40,60],"tickCount":10,"title":"Days post-onset"}},
"y":{"field":"v","type":"quantitative","scale":{"type":"log","domain":[1,100000]},"axis":{"values":[1,10,100,1000,10000,100000],"labelExpr":"'10' + ['⁰','¹','²','³','⁴','⁵','⁶'][round(log(datum.value)/LN10)]","title":"AUC A₄₉₂"}},
"fill":{"field":"s","type":"nominal","scale":{"domain":["P","N"],"range":["#ee0000","transparent"]},"legend":{"title":null,"orient":"bottom","direction":"horizontal","labelExpr":"datum.label == 'P' ? 'Positives' : 'Negatives'","columnPadding":51}}}}]},
{"title":{"text":"b)","anchor":"start","frame":"bounds","fontWeight":"bold","fontSize":14,"offset":0,"dy":16,"dx":-8},"vconcat":[
{"width":168,"height":112,"title":{"text":"α-Nucleocapsid ELISA"},"data":{"name":"b"},
"mark":{"type":"point","filled":true,"stroke":"#1a1a1a","strokeWidth":0.6,"size":24,"opacity":1},
"encoding":{"x":{"field":"d","type":"quantitative","scale":{"domain":[0,60],"nice":false},"axis":{"values":[0,20,40,60],"tickCount":10,"title":"Days post-onset"}},
"y":{"field":"v","type":"quantitative","scale":{"type":"log","domain":[1,100000]},"axis":{"values":[1,10,100,1000,10000,100000],"labelExpr":"'10' + ['⁰','¹','²','³','⁴','⁵','⁶'][round(log(datum.value)/LN10)]","title":"AUC A₄₉₂"}},
"fill":{"field":"s","type":"nominal","scale":{"domain":["P","N"],"range":["#ee0000","transparent"]},"legend":{"title":null,"orient":"bottom","direction":"horizontal","labelExpr":"datum.label == 'P' ? 'Positives' : 'Negatives'","columnPadding":51}}}}]},
{"title":{"text":"c)","anchor":"start","frame":"bounds","fontWeight":"bold","fontSize":14,"offset":0,"dy":16,"dx":-8},"vconcat":[
{"width":168,"height":112,"title":{"text":"α-Spike S1 ELISA"},"data":{"name":"c"},
"mark":{"type":"point","filled":true,"stroke":"#1a1a1a","strokeWidth":0.6,"size":24,"opacity":1},
"encoding":{"x":{"field":"d","type":"quantitative","scale":{"domain":[0,60],"nice":false},"axis":{"values":[0,20,40,60],"tickCount":10,"title":"Days post-onset"}},
"y":{"field":"v","type":"quantitative","scale":{"type":"log","domain":[1,100000]},"axis":{"values":[1,10,100,1000,10000,100000],"labelExpr":"'10' + ['⁰','¹','²','³','⁴','⁵','⁶'][round(log(datum.value)/LN10)]","title":"AUC A₄₉₂"}},
"fill":{"field":"s","type":"nominal","scale":{"domain":["P","N"],"range":["#ee0000","transparent"]},"legend":{"title":null,"orient":"bottom","direction":"horizontal","labelExpr":"datum.label == 'P' ? 'Positives' : 'Negatives'","columnPadding":51}}}}]}
],"spacing":20,"resolve":{"scale":{"fill":"independent"}}},
{"vconcat":[
{"hconcat":[
{"title":{"text":"d)","anchor":"start","frame":"bounds","fontWeight":"bold","fontSize":14,"offset":0,"dy":16,"dx":-8},"vconcat":[
{"width":163,"height":165,"title":{"text":"RBD vs. Nucleocapsid"},"layer":[
{"data":{"values":[{"x":85}]},"mark":{"type":"rule","strokeDash":[2,2],"color":"#333","strokeWidth":1},"encoding":{"x":{"field":"x","type":"quantitative"}}},
{"data":{"values":[{"y":470}]},"mark":{"type":"rule","strokeDash":[2,2],"color":"#333","strokeWidth":1},"encoding":{"y":{"field":"y","type":"quantitative"}}},
{"data":{"name":"d"},"mark":{"type":"point","filled":true,"stroke":"#1a1a1a","strokeWidth":0.6,"size":24,"opacity":1},
"encoding":{"x":{"field":"x","type":"quantitative","scale":{"type":"log","domain":[1,1000000]},"axis":{"values":[1,10,100,1000,10000,100000,1000000],"labelExpr":"'10' + ['⁰','¹','²','³','⁴','⁵','⁶'][round(log(datum.value)/LN10)]","title":"RBD AUC A₄₉₂"}},
"y":{"field":"y","type":"quantitative","scale":{"type":"log","domain":[1,1000000]},"axis":{"values":[1,10,100,1000,10000,100000,1000000],"labelExpr":"'10' + ['⁰','¹','²','³','⁴','⁵','⁶'][round(log(datum.value)/LN10)]","title":"N AUC A₄₉₂"}},
"fill":{"field":"s","type":"nominal","scale":{"domain":["P","N"],"range":["#ee0000","transparent"]},"legend":null}}}]}]},
{"title":{"text":"e)","anchor":"start","frame":"bounds","fontWeight":"bold","fontSize":14,"offset":0,"dy":16,"dx":-8},"vconcat":[
{"width":162,"height":165,"title":{"text":"RBD vs. Spike S1"},"layer":[
{"data":{"values":[{"x":75}]},"mark":{"type":"rule","strokeDash":[2,2],"color":"#333","strokeWidth":1},"encoding":{"x":{"field":"x","type":"quantitative"}}},
{"data":{"values":[{"y":500}]},"mark":{"type":"rule","strokeDash":[2,2],"color":"#333","strokeWidth":1},"encoding":{"y":{"field":"y","type":"quantitative"}}},
{"data":{"name":"e"},"mark":{"type":"point","filled":true,"stroke":"#1a1a1a","strokeWidth":0.6,"size":24,"opacity":1},
"encoding":{"x":{"field":"x","type":"quantitative","scale":{"type":"log","domain":[1,1000000]},"axis":{"values":[1,10,100,1000,10000,100000,1000000],"labelExpr":"'10' + ['⁰','¹','²','³','⁴','⁵','⁶'][round(log(datum.value)/LN10)]","title":"RBD AUC A₄₉₂"}},
"y":{"field":"y","type":"quantitative","scale":{"type":"log","domain":[1,1000000]},"axis":{"values":[1,10,100,1000,10000,100000,1000000],"labelExpr":"'10' + ['⁰','¹','²','³','⁴','⁵','⁶'][round(log(datum.value)/LN10)]","title":"S1 AUC A₄₉₂"}},
"fill":{"field":"s","type":"nominal","scale":{"domain":["P","N"],"range":["#ee0000","transparent"]},"legend":null}}}]}]},
{"title":{"text":"f)","anchor":"start","frame":"bounds","fontWeight":"bold","fontSize":14,"offset":0,"dy":16,"dx":-8},"vconcat":[
{"width":169,"height":165,"title":{"text":"Nucleocapsid vs. Spike S1"},"layer":[
{"data":{"values":[{"x":470}]},"mark":{"type":"rule","strokeDash":[2,2],"color":"#333","strokeWidth":1},"encoding":{"x":{"field":"x","type":"quantitative"}}},
{"data":{"values":[{"y":500}]},"mark":{"type":"rule","strokeDash":[2,2],"color":"#333","strokeWidth":1},"encoding":{"y":{"field":"y","type":"quantitative"}}},
{"data":{"name":"f"},"mark":{"type":"point","filled":true,"stroke":"#1a1a1a","strokeWidth":0.6,"size":24,"opacity":1},
"encoding":{"x":{"field":"x","type":"quantitative","scale":{"type":"log","domain":[1,1000000]},"axis":{"values":[1,10,100,1000,10000,100000,1000000],"labelExpr":"'10' + ['⁰','¹','²','³','⁴','⁵','⁶'][round(log(datum.value)/LN10)]","title":"N AUC A₄₉₂"}},
"y":{"field":"y","type":"quantitative","scale":{"type":"log","domain":[1,1000000]},"axis":{"values":[1,10,100,1000,10000,100000,1000000],"labelExpr":"'10' + ['⁰','¹','²','³','⁴','⁵','⁶'][round(log(datum.value)/LN10)]","title":"S1 AUC A₄₉₂"}},
"fill":{"field":"s","type":"nominal","scale":{"domain":["P","N"],"range":["#ee0000","transparent"]},"legend":null}}}]}]}
],"spacing":30,"resolve":{"scale":{"fill":"independent"}}},
{"hconcat":[
{"title":{"text":"g)","anchor":"start","frame":"bounds","fontWeight":"bold","fontSize":14,"offset":0,"dy":16,"dx":-8},"vconcat":[
{"width":166,"height":111,"title":{"text":"Receptor Binding Domain","fontSize":11.5},"data":{"name":"g"},
"encoding":{"x":{"field":"day","type":"quantitative","scale":{"domain":[0,45],"nice":false},"axis":{"values":[0,10,20,30,40],"tickCount":10,"title":"Days post-onset"}}},
"layer":[
{"mark":{"type":"area","color":"#aaaaf8","line":{"color":"#333","strokeWidth":0.9}},"encoding":{"y":{"field":"m","type":"quantitative","scale":{"domain":[0,15000],"nice":false},"axis":{"values":[0,3750,7500,11250,15000],"tickCount":10,"format":"d","title":"AUC A₄₉₂"}}}},
{"transform":[{"filter":"isValid(datum.hi)"}],"mark":{"type":"rule","color":"#555","strokeWidth":0.8},"encoding":{"y":{"field":"m","type":"quantitative"},"y2":{"field":"hi"}}},
{"transform":[{"filter":"isValid(datum.hi)"}],"mark":{"type":"tick","orient":"horizontal","color":"#555","size":5,"thickness":0.8,"opacity":1},"encoding":{"y":{"field":"hi","type":"quantitative"}}},
{"data":{"values":[{"day":11,"ty":13700,"lab":"Day 11"}]},"layer":[
{"mark":{"type":"rule","strokeDash":[2,2],"color":"#333","strokeWidth":1},"encoding":{}},
{"mark":{"type":"text","align":"right","dx":-6,"fontSize":10.5,"color":"#222"},"encoding":{"y":{"field":"ty","type":"quantitative"},"text":{"field":"lab"}}}]}
]}]},
{"hconcat":[
{"title":{"text":"h)","anchor":"start","frame":"bounds","fontWeight":"bold","fontSize":14,"offset":0,"dy":16,"dx":-8},"vconcat":[
{"width":168,"height":111,"title":{"text":"Nucleocapsid","fontSize":11.5},"data":{"name":"h"},
"encoding":{"x":{"field":"day","type":"quantitative","scale":{"domain":[0,45],"nice":false},"axis":{"values":[0,10,20,30,40],"tickCount":10,"title":"Days post-onset"}}},
"layer":[
{"mark":{"type":"area","color":"#f6a5a5","line":{"color":"#333","strokeWidth":0.9}},"encoding":{"y":{"field":"m","type":"quantitative","scale":{"domain":[0,80000],"nice":false},"axis":{"values":[0,20000,40000,60000,80000],"tickCount":10,"format":"d","title":"AUC A₄₉₂"}}}},
{"transform":[{"filter":"isValid(datum.hi)"}],"mark":{"type":"rule","color":"#555","strokeWidth":0.8},"encoding":{"y":{"field":"m","type":"quantitative"},"y2":{"field":"hi"}}},
{"transform":[{"filter":"isValid(datum.hi)"}],"mark":{"type":"tick","orient":"horizontal","color":"#555","size":5,"thickness":0.8,"opacity":1},"encoding":{"y":{"field":"hi","type":"quantitative"}}},
{"data":{"values":[{"day":22,"ty":73000,"lab":"Day 22"}]},"layer":[
{"mark":{"type":"rule","strokeDash":[2,2],"color":"#333","strokeWidth":1},"encoding":{}},
{"mark":{"type":"text","align":"right","dx":-6,"fontSize":10.5,"color":"#222"},"encoding":{"y":{"field":"ty","type":"quantitative"},"text":{"field":"lab"}}}]}
]}]},
{"title":{"text":"i)","anchor":"start","frame":"bounds","fontWeight":"bold","fontSize":14,"offset":0,"dy":16,"dx":-8},"vconcat":[
{"width":167,"height":111,"title":{"text":"Spike S1","fontSize":11.5},"data":{"name":"i"},
"encoding":{"x":{"field":"day","type":"quantitative","scale":{"domain":[0,45],"nice":false},"axis":{"values":[0,10,20,30,40],"tickCount":10,"title":"Days post-onset"}}},
"layer":[
{"mark":{"type":"area","color":"#74bd92","line":{"color":"#333","strokeWidth":0.9}},"encoding":{"y":{"field":"m","type":"quantitative","scale":{"domain":[0,30000],"nice":false},"axis":{"values":[0,10000,20000,30000],"tickCount":10,"format":"d","title":"AUC A₄₉₂"}}}},
{"transform":[{"filter":"isValid(datum.hi)"}],"mark":{"type":"rule","color":"#555","strokeWidth":0.8},"encoding":{"y":{"field":"m","type":"quantitative"},"y2":{"field":"hi"}}},
{"transform":[{"filter":"isValid(datum.hi)"}],"mark":{"type":"tick","orient":"horizontal","color":"#555","size":5,"thickness":0.8,"opacity":1},"encoding":{"y":{"field":"hi","type":"quantitative"}}},
{"data":{"values":[{"day":13,"ty":27500,"lab":"Day 13"}]},"layer":[
{"mark":{"type":"rule","strokeDash":[2,2],"color":"#333","strokeWidth":1},"encoding":{}},
{"mark":{"type":"text","align":"right","dx":-6,"fontSize":10.5,"color":"#222"},"encoding":{"y":{"field":"ty","type":"quantitative"},"text":{"field":"lab"}}}]}
]}]}
],"spacing":19}
],"spacing":32}
],"spacing":26,"resolve":{"scale":{"fill":"independent"}}}
]
}
